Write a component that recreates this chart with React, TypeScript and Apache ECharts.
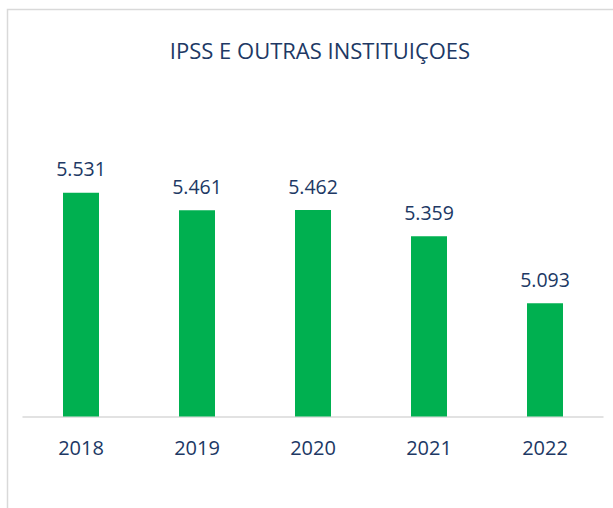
import React, { useEffect, useRef } from "react";
import * as echarts from "echarts";

const categories = ["2018", "2019", "2020", "2021", "2022"];
const values = [5531, 5461, 5462, 5359, 5093];
const titleText = "IPSS E OUTRAS INSTITUIÇOES";

const TEXT = "#203864";
const FONT = "'Open Sans', 'Noto Sans', sans-serif";

export default function App() {
  const ref = useRef<HTMLDivElement>(null);
  useEffect(() => {
    if (!ref.current) return;
    const chart = echarts.init(ref.current, undefined, { renderer: "svg" });
    chart.setOption({
      animation: false,
      backgroundColor: "#ffffff",
      title: {
        text: titleText,
        left: 315,
        textAlign: "center",
        top: 34,
        textStyle: { color: TEXT, fontFamily: FONT, fontSize: 22, fontWeight: "normal" },
      },
      graphic: [
        {
          type: "rect",
          shape: { x: 7.5, y: 9.5, width: 800, height: 800 },
          style: { fill: "none", stroke: "#d9d9d9", lineWidth: 1.5 },
          silent: true,
        },
      ],
      grid: { left: 23, right: 10, top: 150, bottom: 91.5 },
      xAxis: {
        type: "category",
        data: categories,
        axisLine: { show: true, lineStyle: { color: "#d9d9d9", width: 1.5 } },
        axisTick: { show: false },
        axisLabel: { color: TEXT, fontFamily: FONT, fontSize: 20, margin: 21 },
      },
      yAxis: {
        type: "value",
        min: 4645,
        max: 5700,
        show: false,
        splitLine: { show: false },
      },
      series: [
        {
          type: "bar",
          data: values,
          barWidth: 36,
          itemStyle: { color: "#00B050" },
          label: {
            show: true,
            position: "top",
            distance: 14,
            color: TEXT,
            fontFamily: FONT,
            fontSize: 19.5,
            formatter: (p: any) => {
              const v = p.value as number;
              return Math.floor(v / 1000) + "." + String(v % 1000).padStart(3, "0");
            },
          },
        },
      ],
    });
    return () => chart.dispose();
  }, []);
  return (
    <div
      ref={ref}
      style={{ position: "fixed", left: 0, top: 0, width: 613, height: 508 }}
    />
  );
}
